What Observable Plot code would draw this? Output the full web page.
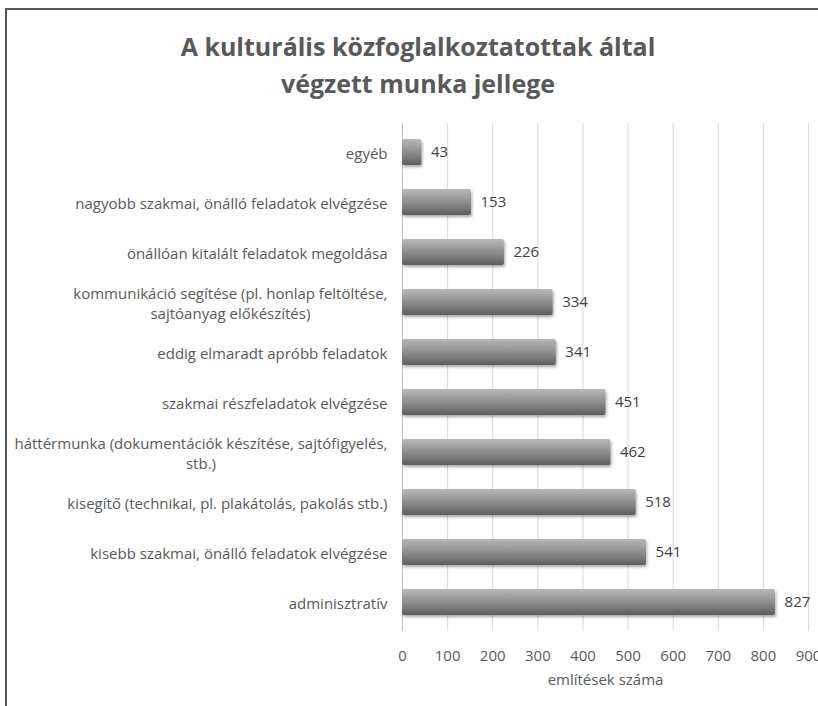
<!DOCTYPE html>
<html>
<head>
<meta charset="utf-8">
<script src="https://cdn.jsdelivr.net/npm/d3@7"></script>
<script src="https://cdn.jsdelivr.net/npm/@observablehq/plot@0.6"></script>
<style>
  html, body { margin: 0; padding: 0; background: #fff; }
  body { position: relative; width: 818px; height: 706px; overflow: hidden; font-family: "Open Sans", "Liberation Sans", sans-serif; }
  #frame { position: absolute; left: 5px; top: 8px; width: 900px; height: 800px; border-left: 2px solid #555; border-top: 2px solid #555; pointer-events: none; }
  #title { position: absolute; left: 0; top: 28px; width: 836px; text-align: center; font-weight: bold; font-size: 25px; line-height: 37px; color: #595959; }
  #chart { position: absolute; left: 0; top: 110px; }
</style>
</head>
<body>
<div id="frame"></div>
<div id="title">A kulturális közfoglalkoztatottak által<br>végzett munka jellege</div>
<div id="chart"></div>
<script>
const categories = [
  "egyéb",
  "nagyobb szakmai, önálló feladatok elvégzése",
  "önállóan kitalált feladatok megoldása",
  "kommunikáció segítése (pl. honlap feltöltése,\nsajtóanyag előkészítés)",
  "eddig elmaradt apróbb feladatok",
  "szakmai részfeladatok elvégzése",
  "háttérmunka (dokumentációk készítése, sajtófigyelés,\nstb.)",
  "kisegítő (technikai, pl. plakátolás, pakolás stb.)",
  "kisebb szakmai, önálló feladatok elvégzése",
  "adminisztratív"
];
const values = [43, 153, 226, 334, 341, 451, 462, 518, 541, 827];
const xTicks = [0, 100, 200, 300, 400, 500, 600, 700, 800, 900];
const xLabel = "említések száma";

const data = categories.map((c, i) => ({category: c, value: values[i]}));

const textColor = "#595959";

const plot = Plot.plot({
  width: 818,
  height: 596,
  marginLeft: 402,
  marginRight: 10,
  marginTop: 13,
  marginBottom: 75,
  style: {fontFamily: "'Open Sans', 'Liberation Sans', sans-serif", fontSize: "15px", color: textColor, background: "transparent"},
  x: {domain: [0, 900], ticks: xTicks},
  y: {domain: categories, paddingInner: 0.49, paddingOuter: 0.245},
  marks: [
    Plot.gridX(xTicks.filter(d => d > 0), {stroke: "#d9d9d9", strokeOpacity: 1, strokeWidth: 1}),
    Plot.ruleX([0], {stroke: "#bfbfbf", strokeWidth: 1}),
    Plot.barX(data, {x: "value", y: "category", fill: "url(#barGrad)", rx: 2}),
    Plot.text(data, {x: "value", y: "category", text: d => String(d.value), textAnchor: "start", dx: 9, fill: "#404040", fontSize: 15}),
    Plot.axisX({ticks: xTicks, tickSize: 0, tickPadding: 19, label: xLabel, labelAnchor: "center", labelArrow: "none", labelOffset: 53, fill: textColor, fontSize: 15}),
    Plot.axisY({tickSize: 0, tickPadding: 15, label: null, fill: textColor, fontSize: 15, lineHeight: 1.3})
  ]
});

// gradient + soft shadow definitions
const ns = "http://www.w3.org/2000/svg";
const defs = document.createElementNS(ns, "defs");
defs.innerHTML = `
  <linearGradient id="barGrad" x1="0" y1="0" x2="0" y2="1">
    <stop offset="0" stop-color="#b8b8b8"/>
    <stop offset="0.35" stop-color="#9c9c9c"/>
    <stop offset="0.8" stop-color="#727272"/>
    <stop offset="1" stop-color="#5c5c5c"/>
  </linearGradient>
  <filter id="barShadow" x="-5%" y="-30%" width="115%" height="170%">
    <feDropShadow dx="1" dy="2" stdDeviation="1.5" flood-color="#000" flood-opacity="0.35"/>
  </filter>`;
plot.insertBefore(defs, plot.firstChild);
plot.querySelectorAll("rect").forEach(r => {
  if (r.getAttribute("fill") === "url(#barGrad)" || (r.parentNode && r.parentNode.getAttribute("fill") === "url(#barGrad)")) {
    r.setAttribute("filter", "url(#barShadow)");
  }
});

document.getElementById("chart").appendChild(plot);

// center the second line of wrapped y labels under the first (as in the original)
plot.querySelectorAll("text").forEach(t => {
  const spans = t.querySelectorAll("tspan");
  if (spans.length === 2) {
    const w1 = spans[0].getComputedTextLength();
    const w2 = spans[1].getComputedTextLength();
    spans[1].setAttribute("dx", String(-(w1 - w2) / 2));
  }
});
</script>
</body>
</html>
